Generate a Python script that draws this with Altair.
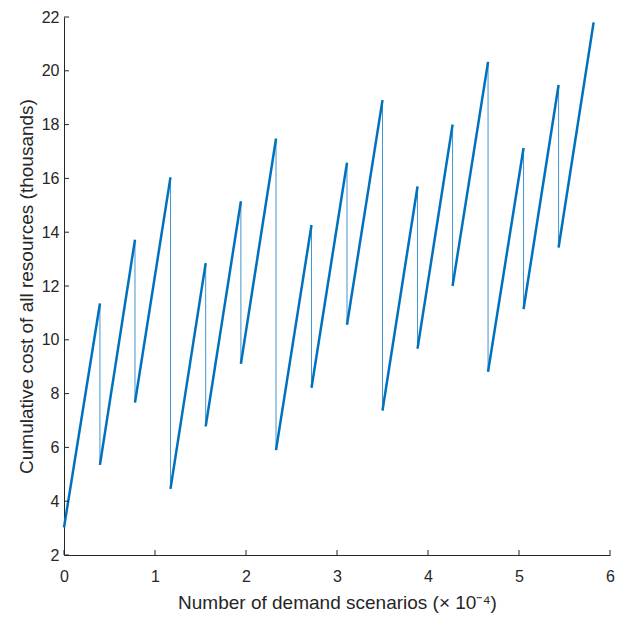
import altair as alt
import pandas as pd

# Sawtooth segments (x in units of 10^4 scenarios, y in thousands)
seg_start_x = [0.0, 0.395, 0.78, 1.17, 1.557, 1.944, 2.33, 2.72, 3.11, 3.50, 3.885, 4.27, 4.66, 5.05, 5.435]
seg_end_x = [0.395, 0.78, 1.17, 1.557, 1.944, 2.33, 2.72, 3.11, 3.50, 3.885, 4.27, 4.66, 5.05, 5.435, 5.82]
seg_low = [3.02, 5.35, 7.67, 4.46, 6.78, 9.11, 5.90, 8.22, 10.56, 7.37, 9.67, 12.00, 8.81, 11.14, 13.43]
seg_high = [11.35, 13.72, 16.04, 12.85, 15.15, 17.48, 14.27, 16.58, 18.91, 15.70, 18.00, 20.33, 17.13, 19.47, 21.80]

x_ticks = [0, 1, 2, 3, 4, 5, 6]
y_ticks = [2, 4, 6, 8, 10, 12, 14, 16, 18, 20, 22]

BLUE = "#0072BD"
AX = "#262626"
FONT = "Liberation Sans"
W, H = 546, 538

rise_rows = []
for i in range(len(seg_start_x)):
    rise_rows.append({"seg": i, "x": seg_start_x[i], "y": seg_low[i], "o": 0})
    rise_rows.append({"seg": i, "x": seg_end_x[i], "y": seg_high[i], "o": 1})
rises = pd.DataFrame(rise_rows)

drops = pd.DataFrame({
    "x": seg_end_x[:-1],
    "y": seg_high[:-1],
    "y2": seg_low[1:],
})

xs = alt.Scale(domain=[0, 6], nice=False, zero=False)
ys = alt.Scale(domain=[2, 22], nice=False, zero=False)

x_axis = alt.Axis(values=x_ticks, format="d", labelPadding=13, labelFlush=False,
                  title="Number of demand scenarios (× 10⁻⁴)",
                  titleY=53, titleBaseline="alphabetic")
y_axis = alt.Axis(values=y_ticks, format="d", labelPadding=5, labelFlush=False,
                  title="Cumulative cost of all resources (thousands)",
                  titleX=-32, titleY=269, titleBaseline="alphabetic",
                  titleAngle=270, titleAlign="center")

rise_chart = alt.Chart(rises).mark_line(color=BLUE, strokeWidth=2.5, strokeJoin="round").encode(
    x=alt.X("x:Q", scale=xs, axis=x_axis),
    y=alt.Y("y:Q", scale=ys, axis=y_axis),
    detail="seg:N",
    order="o:Q",
)

drop_chart = alt.Chart(drops).mark_rule(color=BLUE, strokeWidth=1, opacity=0.75).encode(
    x=alt.X("x:Q", scale=xs),
    y=alt.Y("y:Q", scale=ys),
    y2="y2:Q",
)

xt = pd.DataFrame({"t": x_ticks})
yt = pd.DataFrame({"t": y_ticks})

x_tick_chart = alt.Chart(xt).mark_rule(color=AX, strokeWidth=1).encode(
    x=alt.X("t:Q", scale=xs),
    y=alt.value(H),
    y2=alt.value(H - 5),
)
y_tick_chart = alt.Chart(yt).mark_rule(color=AX, strokeWidth=1).encode(
    y=alt.Y("t:Q", scale=ys),
    x=alt.value(0),
    x2=alt.value(5),
)

chart = alt.layer(rise_chart, drop_chart, x_tick_chart, y_tick_chart).properties(
    width=W, height=H,
    autosize="none",
    padding={"left": 56, "top": 9, "right": 14, "bottom": 58},
).configure_view(stroke=None).configure_axis(
    grid=False, ticks=False, tickSize=0,
    domainColor=AX, domainWidth=1,
    labelFont=FONT, labelFontSize=16, labelColor=AX,
    titleFont=FONT, titleFontSize=19, titleFontWeight="normal", titleColor=AX,
)

chart.save("out.html", embed_options={"renderer": "svg", "actions": False})
